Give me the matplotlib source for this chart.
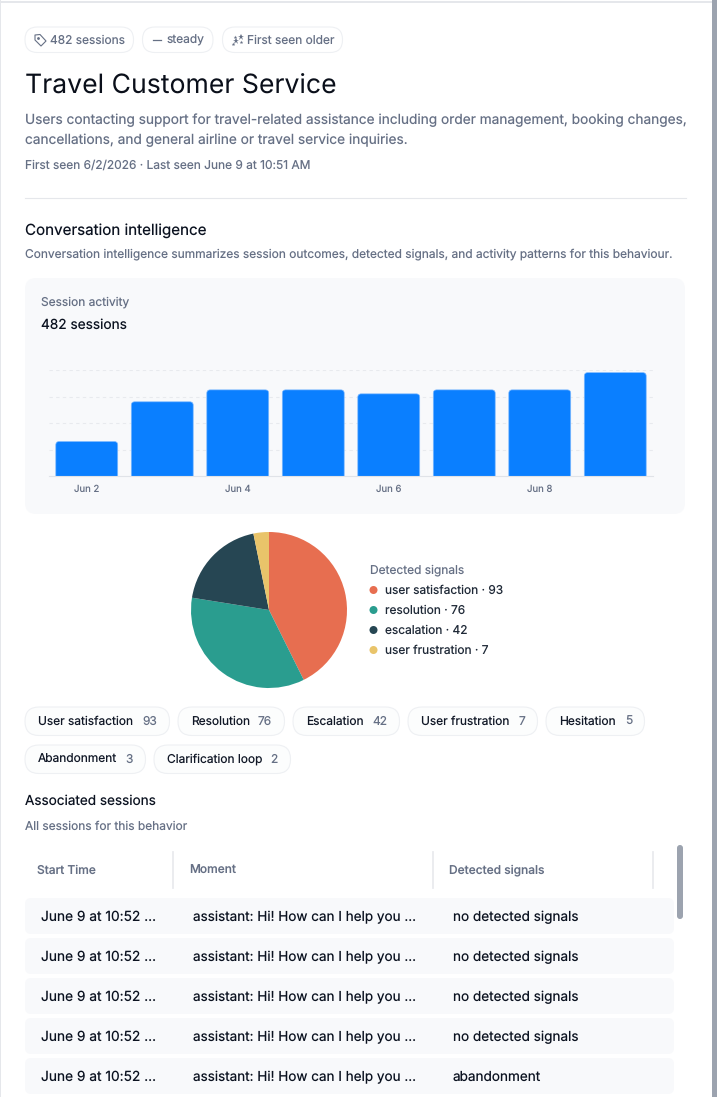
import matplotlib
matplotlib.use('Agg')
import matplotlib.pyplot as plt
from matplotlib.patches import FancyBboxPatch, Polygon, Circle, Rectangle

plt.rcParams['font.family'] = ['Inter', 'DejaVu Sans']
plt.rcParams['text.hinting'] = 'no_hinting'
plt.rcParams['text.hinting_factor'] = 1

W, H = 717, 1097

# datos del grafico
days = ['Jun 2', 'Jun 3', 'Jun 4', 'Jun 5', 'Jun 6', 'Jun 7', 'Jun 8', 'Jun 9']
sessions = [26, 56, 65, 65, 62, 65, 65, 78]
grid_values = [20, 40, 60, 80]

signal_names = ['user satisfaction', 'resolution', 'escalation', 'user frustration']
signal_counts = [93, 76, 42, 7]
signal_colors = ['#E76E50', '#2A9D8F', '#264653', '#E9C46A']

pill_labels = ['User satisfaction', 'Resolution', 'Escalation', 'User frustration',
               'Hesitation', 'Abandonment', 'Clarification loop']
pill_counts = [93, 76, 42, 7, 5, 3, 2]
pill_x0 = [25, 178, 293, 408, 546, 25, 154]
pill_x1 = [170, 285, 400, 538, 645, 146, 291]
pill_y = [707, 707, 707, 707, 707, 745, 745]

row_signals = ['no detected signals', 'no detected signals', 'no detected signals',
               'no detected signals', 'abandonment']
row_time = 'June 9 at 10:52 ...'
row_moment = 'assistant: Hi! How can I help you ...'

DARK = '#0B1220'
GRAY = '#667085'
PANEL = '#F8F9FB'
BORDER = '#EEF0F3'
BLUE = '#0A7FFF'

BODY = 9.85
SMALL = 8.6

fig = plt.figure(figsize=(W / 100, H / 100), dpi=100, facecolor='white')


def px_axes(x0, y0, x1, y1, **kw):
    return fig.add_axes([x0 / W, 1 - y1 / H, (x1 - x0) / W, (y1 - y0) / H], **kw)


page = px_axes(0, 0, W, H)
page.set_xlim(0, W)
page.set_ylim(H, 0)
page.axis('off')


def box(x0, y0, x1, y1, r, fc='white', ec='none', lw=0.8):
    page.add_patch(FancyBboxPatch((x0 + r, y0 + r), x1 - x0 - 2 * r, y1 - y0 - 2 * r,
                                  boxstyle=f'round,pad={r},rounding_size={r}',
                                  fc=fc, ec=ec, lw=lw))


def txt(x, y, s, size, color=DARK, **kw):
    return page.text(x, y + 1, s, fontsize=size, color=color, va='center', **kw)


# bordes de la ventana
page.add_patch(Rectangle((0, 0), 1, H, fc='#E5E7EB', ec='none'))
page.add_patch(Rectangle((0, 1), 712, 1.5, fc='#E5E7EB', ec='none'))
page.add_patch(Rectangle((712, 0), 5, H, fc='#9CA3AF', ec='none'))

# etiquetas superiores
box(25, 27, 133.5, 52.5, 12.5, ec=BORDER)
box(142.5, 27, 213, 52.5, 12.5, ec=BORDER)
box(222.5, 27, 342.5, 52.5, 12.5, ec=BORDER)
page.add_patch(Polygon([(35, 35), (40, 34.5), (46, 41), (41, 46), (35, 40)],
                       closed=True, fc='none', ec=GRAY, lw=0.8, joinstyle='round'))
page.plot([37.5], [37.5], marker='o', ms=1.0, color=GRAY)
txt(50, 39.5, '482 sessions', SMALL, GRAY)
page.plot([153, 161], [40, 40], color=GRAY, lw=0.9)
txt(167, 39.5, 'steady', SMALL, GRAY)
page.plot([236, 240.5], [41, 36.5], ls='none', marker='*', ms=4.5, color=GRAY, mew=0)
page.plot([233, 241, 235], [44, 42, 37], ls='none', marker='*', ms=2.8, color=GRAY, mew=0)
txt(247, 39.5, 'First seen older', SMALL, GRAY)

# cabecera
txt(25, 84.5, 'Travel Customer Service', 19.18, '#0A0F1A')
txt(25, 119, 'Users contacting support for travel-related assistance including order management, booking changes,',
    BODY, GRAY)
txt(25, 139, 'cancellations, and general airline or travel service inquiries.', BODY, GRAY)
txt(25, 164.5, 'First seen 6/2/2026 · Last seen June 9 at 10:51 AM', SMALL, GRAY)
page.plot([25, 686], [197.5, 197.5], color='#E5E7EB', lw=0.8)

txt(25, 230, 'Conversation intelligence', 10.92)
txt(25, 253.5, 'Conversation intelligence summarizes session outcomes, detected signals, and activity patterns for this behaviour.',
    SMALL, GRAY)

# panel de actividad
box(25, 278, 685, 514, 11, fc=PANEL)
txt(41, 301.5, 'Session activity', SMALL, GRAY)
txt(41, 324, '482 sessions', BODY)

ax = px_axes(49, 370, 653, 476)
ax.patch.set_alpha(0)
ax.set_xlim(-0.5, 7.5)
ax.set_ylim(0, 80)
xs = list(range(len(days)))
bars = ax.bar(xs, sessions, width=0.82, color='none', zorder=3)
# esquinas superiores redondeadas: la parte inferior queda recortada por el eje
aspect = (80 / 106) / (8 / 604)
for b in bars:
    ax.add_patch(FancyBboxPatch((b.get_x(), -10), b.get_width(), b.get_height() + 10,
                                boxstyle='round,pad=0,rounding_size=0.045',
                                mutation_aspect=aspect, fc=BLUE, ec='#7DB9FF',
                                lw=0.5, zorder=3))
ax.set_yticks(grid_values)
ax.set_yticklabels([])
ax.tick_params(axis='y', length=0)
ax.grid(axis='y', color='#E8EAEE', lw=0.8, dashes=(3, 3), zorder=0)
ax.set_axisbelow(True)
ax.set_xticks(xs[::2])
ax.set_xticklabels(days[::2], fontsize=6.9, color=GRAY)
ax.tick_params(axis='x', length=0, pad=6.5)
for side in ['top', 'left', 'right']:
    ax.spines[side].set_visible(False)
ax.spines['bottom'].set_color('#E0E3E8')
ax.spines['bottom'].set_linewidth(0.8)
ax.spines['bottom'].set_zorder(5)

# pastel de senales
pie_ax = px_axes(189, 530, 349, 690)
pie_ax.pie(signal_counts, colors=signal_colors, startangle=90, counterclock=False,
           radius=78 / 80)
pie_ax.set_xlim(-1, 1)
pie_ax.set_ylim(-1, 1)

txt(369.5, 569.5, 'Detected signals', SMALL, GRAY)
for i, (name, n, c) in enumerate(zip(signal_names, signal_counts, signal_colors)):
    y = 590 + i * 20
    page.add_patch(Circle((373.5, y), 4, fc=c, ec='none'))
    txt(385, y - 0.5, f'{name} · {n}', SMALL, '#1F2937')

# pildoras
for lab, n, x0, x1, y in zip(pill_labels, pill_counts, pill_x0, pill_x1, pill_y):
    box(x0, y, x1 - 0.5, y + 28.5, 14, fc='#FCFDFD', ec=BORDER)
    txt(x0 + 13, y + 13.5, lab, SMALL, '#111827')
    txt(x1 - 13, y + 13.5, str(n), SMALL, GRAY, ha='right')

# tabla de sesiones
txt(25, 800, 'Associated sessions', 9.78)
txt(25, 825.5, 'All sessions for this behavior', SMALL, GRAY)
txt(37, 869.5, 'Start Time', SMALL, GRAY, fontweight='medium')
txt(189, 869.5, 'Moment', SMALL, GRAY, fontweight='medium')
txt(449, 869.5, 'Detected signals', SMALL, GRAY, fontweight='medium')
for sx in [173, 433, 653]:
    page.plot([sx, sx], [852, 888], color='#E9EBEE', lw=1.3)

for i, sig in enumerate(row_signals):
    y0 = 898 + i * 40
    box(25, y0, 674, y0 + 36, 6, fc=PANEL)
    txt(41, y0 + 18, row_time, 9.9)
    txt(193, y0 + 18, row_moment, 9.73)
    txt(453, y0 + 18, sig, 9.77)

box(677, 845, 683, 919, 3, fc='#9CA3AF')

fig.savefig('out.png', dpi=100)
